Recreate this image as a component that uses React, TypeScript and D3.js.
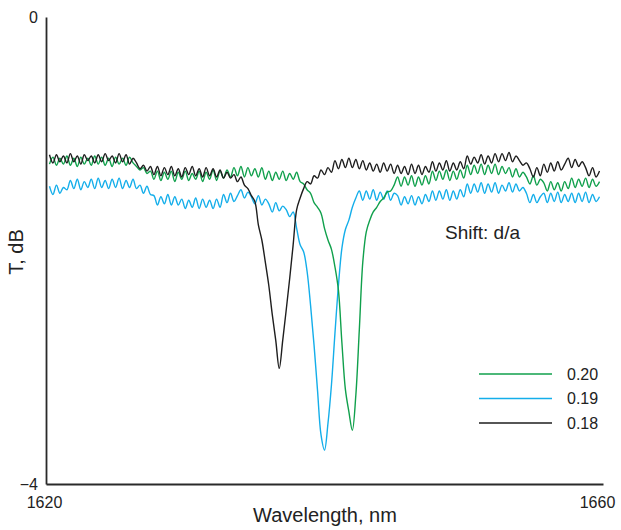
import React, { useEffect, useRef } from 'react';
import * as d3 from 'd3';

// wavelength grid, nm (one sample every 0.25 nm)
const wavelengths: number[] = d3.range(1, 160).map((i) => 1620 + 0.25 * i);

// transmission, dB
const t018: number[] = [
  -1.18, -1.25, -1.18, -1.24, -1.19, -1.25, -1.17, -1.24, -1.19, -1.26, -1.18, -1.23, -1.19, -1.25, -1.18, -1.24, -1.17, -1.23, -1.19, -1.25, -1.17, -1.24, -1.18, -1.26, -1.21,
  -1.25, -1.30, -1.27, -1.32, -1.28,
  -1.35, -1.28, -1.36, -1.29, -1.35, -1.28, -1.36, -1.30, -1.37, -1.29, -1.35, -1.28, -1.36, -1.30, -1.37, -1.29, -1.36, -1.30, -1.37, -1.31, -1.38, -1.33,
  -1.38, -1.35, -1.41, -1.37, -1.44, -1.47, -1.53, -1.58,
  -1.78, -1.91, -2.10, -2.30, -2.55, -2.77, -3.01, -2.77, -2.51, -2.24, -1.95, -1.65, -1.55, -1.47, -1.41, -1.43, -1.36, -1.38,
  -1.31, -1.35, -1.29, -1.33,
  -1.23, -1.30, -1.22, -1.29, -1.21, -1.29, -1.22, -1.30, -1.23, -1.31,
  -1.25, -1.32, -1.26, -1.33, -1.25, -1.32, -1.26, -1.34,
  -1.27, -1.34, -1.28, -1.35, -1.26, -1.34, -1.27, -1.35, -1.28, -1.33,
  -1.24, -1.32, -1.25, -1.31, -1.23, -1.32, -1.25, -1.31, -1.24, -1.30,
  -1.19, -1.26, -1.20, -1.25, -1.18, -1.26, -1.19, -1.25, -1.17, -1.24,
  -1.17, -1.23, -1.16, -1.24, -1.19,
  -1.23, -1.27, -1.25,
  -1.30, -1.37, -1.29, -1.36,
  -1.26, -1.33, -1.25, -1.32, -1.24, -1.31, -1.26,
  -1.21, -1.29, -1.22, -1.28, -1.24,
  -1.29, -1.36, -1.29, -1.37, -1.32,
];

const t020: number[] = [
  -1.26, -1.20, -1.27, -1.21, -1.26, -1.19, -1.27, -1.21, -1.28, -1.20, -1.26, -1.21, -1.27, -1.19, -1.26, -1.20, -1.27, -1.21, -1.28, -1.20, -1.26, -1.21, -1.27, -1.20, -1.25,
  -1.28, -1.31, -1.29, -1.34, -1.32,
  -1.39, -1.32, -1.40, -1.33, -1.39, -1.32, -1.41, -1.33, -1.39, -1.32, -1.40, -1.34, -1.39, -1.32, -1.41, -1.33, -1.39, -1.31, -1.40, -1.32, -1.38, -1.31,
  -1.37, -1.29, -1.36, -1.28, -1.37, -1.29, -1.36, -1.30, -1.37, -1.29,
  -1.39, -1.32, -1.40, -1.33, -1.39, -1.32, -1.40, -1.34, -1.39, -1.33,
  -1.41, -1.43, -1.48, -1.51, -1.59, -1.63, -1.68, -1.81, -1.91, -1.99, -2.14, -2.34, -2.79, -3.19, -3.38, -3.54, -3.24, -2.68, -2.10, -1.84, -1.74, -1.67, -1.63, -1.58, -1.55, -1.50, -1.49, -1.44,
  -1.37, -1.45, -1.37, -1.44, -1.36, -1.45, -1.37, -1.44, -1.36, -1.43,
  -1.32, -1.40, -1.32, -1.39, -1.31, -1.40, -1.32, -1.39, -1.31, -1.38,
  -1.27, -1.35, -1.27, -1.34, -1.26, -1.35, -1.27, -1.34, -1.26, -1.35, -1.28, -1.34,
  -1.29, -1.37, -1.30, -1.37, -1.33,
  -1.37, -1.43, -1.36, -1.44, -1.39,
  -1.42, -1.49, -1.41, -1.48, -1.42, -1.49, -1.41, -1.47,
  -1.38, -1.46, -1.39, -1.45, -1.38, -1.46, -1.39, -1.45, -1.41,
];

const t019: number[] = [
  -1.45, -1.52, -1.44, -1.51, -1.46,
  -1.48, -1.40, -1.47, -1.39, -1.48, -1.41, -1.46,
  -1.39, -1.47, -1.38, -1.46, -1.40, -1.47, -1.39, -1.46, -1.38, -1.47, -1.40, -1.46, -1.39, -1.47,
  -1.44, -1.51, -1.45, -1.52,
  -1.53, -1.61, -1.54, -1.60, -1.52, -1.61, -1.54, -1.61,
  -1.56, -1.64, -1.57, -1.63, -1.55, -1.64, -1.56, -1.63, -1.57, -1.64, -1.56, -1.63,
  -1.52, -1.59, -1.51, -1.58, -1.53,
  -1.48, -1.55, -1.50,
  -1.54, -1.60, -1.53, -1.61, -1.56,
  -1.60, -1.67, -1.59, -1.66, -1.62,
  -1.65, -1.71, -1.67,
  -1.81, -1.95, -2.01, -2.18, -2.47, -2.81, -3.20, -3.58, -3.71, -3.48, -3.15, -2.71, -2.30, -1.98, -1.82, -1.74, -1.63, -1.55,
  -1.49, -1.57, -1.49, -1.56, -1.48, -1.57, -1.50, -1.56, -1.49, -1.57, -1.51,
  -1.53, -1.61, -1.54, -1.60, -1.53, -1.61, -1.54, -1.60, -1.52, -1.58,
  -1.49, -1.57, -1.49, -1.56, -1.48, -1.57, -1.49, -1.56, -1.48, -1.54,
  -1.43, -1.51, -1.43, -1.50, -1.42, -1.51, -1.43, -1.50, -1.42, -1.51, -1.44, -1.49,
  -1.42, -1.50, -1.43, -1.49, -1.46,
  -1.51, -1.59, -1.52, -1.59, -1.54,
  -1.51, -1.59, -1.51, -1.58, -1.50, -1.59, -1.52, -1.58, -1.51, -1.59, -1.51, -1.58, -1.50, -1.59, -1.52, -1.58, -1.54,
];

const seriesNames = ['0.20', '0.19', '0.18'];
const seriesColors = ['#10a04c', '#14aeea', '#1e1e1e'];
const seriesValues = [t020, t019, t018];
// drawn in this order so black sits on top like in the figure
const drawOrder = [1, 0, 2];

const xTicks = [1620, 1660];
const yTicks = [0, -4];

const W = 621, H = 530;
const FONT = '"Liberation Sans", Arial, Helvetica, sans-serif';

export default function App() {
  const axisRef = useRef<SVGGElement>(null);

  const x = d3.scaleLinear().domain([1620, 1660]).range([46, 603]);
  const y = d3.scaleLinear().domain([0, -4]).range([17, 484]);

  // smooth through the samples so the ripple looks like the measured trace
  const line = d3.line<number>()
    .x((d, i) => x(wavelengths[i]))
    .y((d) => y(d))
    .curve(d3.curveCatmullRom.alpha(0.5));

  useEffect(() => {
    if (!axisRef.current) return;
    const g = d3.select(axisRef.current);
    g.selectAll('*').remove();

    const yAxis = g.append('g')
      .attr('transform', 'translate(46,0)')
      .call(d3.axisLeft(y).tickValues(yTicks).tickSize(0).tickPadding(8).tickFormat(d3.format('d')));
    const xAxis = g.append('g')
      .attr('transform', 'translate(0,484)')
      .call(d3.axisBottom(x).tickValues(xTicks).tickSize(0).tickPadding(13).tickFormat(d3.format('d')));

    [yAxis, xAxis].forEach((a) => {
      a.select('.domain').attr('stroke', '#2a2a2a').attr('stroke-width', 1.8);
      a.selectAll('text').attr('font-family', FONT).attr('font-size', 16).attr('fill', '#222');
    });
    // x labels sit a little left of their ticks in the figure
    xAxis.selectAll('.tick text').attr('dx', (d) => (d === 1660 ? -6 : -2));
  }, []);

  return (
    <svg width={W} height={H} style={{ position: 'absolute', left: 0, top: 0, background: '#fff' }}>
      {drawOrder.map((k) => (
        <path key={seriesNames[k]} d={line(seriesValues[k]) || ''} fill="none"
          stroke={seriesColors[k]} strokeWidth={1.4} strokeLinejoin="round" />
      ))}
      <g ref={axisRef} />
      <text x={325} y={522} textAnchor="middle" fontFamily={FONT} fontSize={20} fill="#222">Wavelength, nm</text>
      <text transform="translate(23,252) rotate(-90)" textAnchor="middle" fontFamily={FONT} fontSize={20} fill="#222">T, dB</text>
      <text x={445} y={239} fontFamily={FONT} fontSize={19} fill="#222">Shift: d/a</text>
      {seriesNames.map((name, i) => (
        <g key={name} transform={`translate(0,${374 + i * 24.5})`}>
          <line x1={479} x2={552} y1={0} y2={0} stroke={seriesColors[i]} strokeWidth={1.3} />
          <text x={567} y={0} dy="0.35em" fontFamily={FONT} fontSize={16} fill="#222">{name}</text>
        </g>
      ))}
    </svg>
  );
}
